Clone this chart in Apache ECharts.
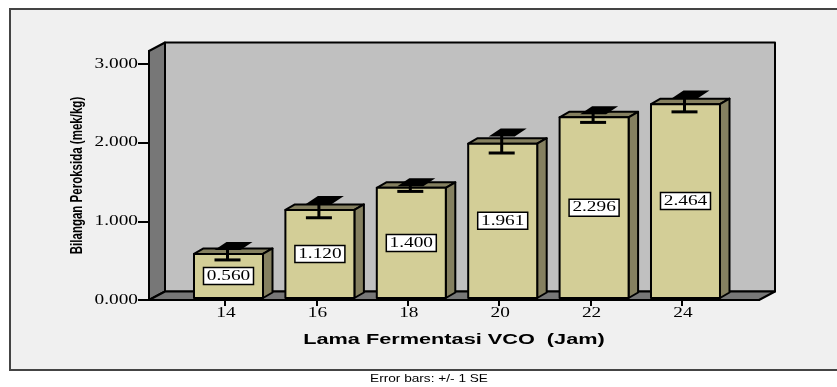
<!DOCTYPE html>
<html>
<head>
<meta charset="utf-8">
<title>Bilangan Peroksida</title>
<script src="https://cdn.jsdelivr.net/npm/echarts@6/dist/echarts.min.js"></script>
<style>
    html, body { margin: 0; padding: 0; background: #fff; }
    #chart { width: 837px; height: 387px; }
</style>
</head>
<body>
<div id="chart"></div>
<script>
// fermentation time (jam), mean value and standard error
var hours = [14, 16, 18, 20, 22, 24];
var values = [0.560, 1.120, 1.400, 1.961, 2.296, 2.464];
var errors = [0.076, 0.100, 0.045, 0.118, 0.064, 0.098];
var yTicks = [0, 1, 2, 3];

// axis ends, the 3d box is wider than the categories
var xMin = 12.337, xMax = 25.685, yMax = 3.165;

var chart = echarts.init(document.getElementById('chart'));

function poly(points, fill) {
    return {
        type: 'polygon',
        shape: { points: points },
        style: { fill: fill, stroke: '#000', lineWidth: 2, lineJoin: 'round' }
    };
}

// the original uses a horizontally stretched times face, axisLabel can't scale so these go through custom text
function wideText(x, y, text, align) {
    return {
        type: 'text',
        x: x,
        y: y,
        scaleX: 1.33,
        style: {
            text: text,
            textAlign: align,
            textVerticalAlign: 'middle',
            font: '14.5px "Liberation Serif", serif',
            fill: '#000'
        }
    };
}

// back wall, left wall, floor and the tick labels
function renderBox(params, api) {
    var dx = 16, dy = -8.5;
    var a = api.coord([xMin, 0]);
    var b = api.coord([xMax, 0]);
    var c = api.coord([xMin, yMax]);
    var children = [
        poly([[a[0] + dx, c[1] + dy], [b[0] + dx, c[1] + dy], [b[0] + dx, a[1] + dy], [a[0] + dx, a[1] + dy]], '#c0c0c0'),
        poly([[a[0], c[1]], [a[0] + dx, c[1] + dy], [a[0] + dx, a[1] + dy], [a[0], a[1]]], '#777777'),
        poly([[a[0], a[1]], [a[0] + dx, a[1] + dy], [b[0] + dx, a[1] + dy], [b[0], b[1]]], '#777777')
    ];
    yTicks.forEach(function (t) {
        children.push(wideText(a[0] - 11, api.coord([xMin, t])[1], t.toFixed(3), 'right'));
    });
    hours.forEach(function (h) {
        children.push(wideText(api.coord([h, 0])[0] + 1, a[1] + 13, String(h), 'center'));
    });
    return { type: 'group', children: children };
}

// 3d bar with its error bar and boxed value
function renderBar(params, api) {
    var x = api.coord([api.value(0), 0])[0] + 3.5;
    var lift = -2;
    var base = api.coord([api.value(0), 0])[1] + lift;
    var top = api.coord([api.value(0), api.value(1)])[1] + lift;
    var low = api.coord([api.value(0), api.value(1) - api.value(2)])[1] + lift;
    var high = api.coord([api.value(0), api.value(1) + api.value(2)])[1] + lift;
    var w = 34.5, dx = 9.5, dy = -5.5, cap = 13;
    var midY = (top + base) / 2;
    return {
        type: 'group',
        children: [
            poly([[x - w, top], [x - w + dx, top + dy], [x + w + dx, top + dy], [x + w, top]], '#858060'),
            poly([[x + w, top], [x + w + dx, top + dy], [x + w + dx, base + dy], [x + w, base]], '#858060'),
            poly([[x - w, top], [x + w, top], [x + w, base], [x - w, base]], '#d3ce97'),
            {
                type: 'polygon',
                shape: { points: [[x - cap - 1, high + 2], [x - cap + 11, high - 6], [x + cap + 11, high - 6], [x + cap - 1, high + 2]] },
                style: { fill: '#000' }
            },
            {
                type: 'line',
                shape: { x1: x - 1, y1: high, x2: x - 1, y2: low },
                style: { stroke: '#000', lineWidth: 3 }
            },
            {
                type: 'line',
                shape: { x1: x - cap - 1, y1: low, x2: x + cap - 1, y2: low },
                style: { stroke: '#000', lineWidth: 3 }
            },
            {
                type: 'rect',
                shape: { x: x - 25, y: midY - 8.5, width: 50, height: 17 },
                style: { fill: '#fff', stroke: '#000', lineWidth: 1.5 }
            },
            wideText(x, midY, api.value(1).toFixed(3), 'center')
        ]
    };
}

chart.setOption({
    animation: false,
    backgroundColor: '#fff',
    graphic: [
        {
            type: 'rect',
            shape: { x: 10, y: 9, width: 830, height: 361 },
            style: { fill: '#f0f0f0', stroke: '#444', lineWidth: 2 }
        },
        {
            type: 'text',
            x: 429,
            y: 379,
            scaleX: 1.3,
            style: {
                text: 'Error bars: +/- 1 SE',
                textAlign: 'center',
                textVerticalAlign: 'middle',
                font: '10.5px "Liberation Sans", sans-serif',
                fill: '#000'
            }
        },
        {
            type: 'text',
            x: 454,
            y: 340,
            scaleX: 1.55,
            style: {
                text: 'Lama Fermentasi VCO  (Jam)',
                textAlign: 'center',
                textVerticalAlign: 'middle',
                font: 'bold 14px "Liberation Sans", sans-serif',
                fill: '#000'
            }
        },
        {
            type: 'text',
            x: 78,
            y: 175.5,
            rotation: Math.PI / 2,
            scaleX: 0.72,
            style: {
                text: 'Bilangan Peroksida (mek/kg)',
                textAlign: 'center',
                textVerticalAlign: 'middle',
                font: 'bold 16px "Liberation Sans", sans-serif',
                fill: '#000'
            }
        }
    ],
    grid: { left: 149, right: 78, top: 51, bottom: 87 },
    xAxis: {
        type: 'value',
        min: xMin,
        max: xMax,
        splitLine: { show: false },
        axisLine: { lineStyle: { color: '#000', width: 2 } },
        axisTick: { customValues: hours, length: 6, lineStyle: { color: '#000', width: 2 } },
        axisLabel: { show: false }
    },
    yAxis: {
        type: 'value',
        min: 0,
        max: yMax,
        splitLine: { show: false },
        axisLine: { lineStyle: { color: '#000', width: 2 } },
        axisTick: { customValues: yTicks, length: 11, lineStyle: { color: '#000', width: 2 } },
        axisLabel: { show: false }
    },
    series: [
        {
            type: 'custom',
            coordinateSystem: 'cartesian2d',
            renderItem: renderBox,
            data: [[hours[0], 0]],
            silent: true,
            z: 1
        },
        {
            type: 'custom',
            coordinateSystem: 'cartesian2d',
            renderItem: renderBar,
            encode: { x: 0, y: 1 },
            data: hours.map(function (h, i) { return [h, values[i], errors[i]]; }),
            z: 2
        }
    ]
});
</script>
</body>
</html>
